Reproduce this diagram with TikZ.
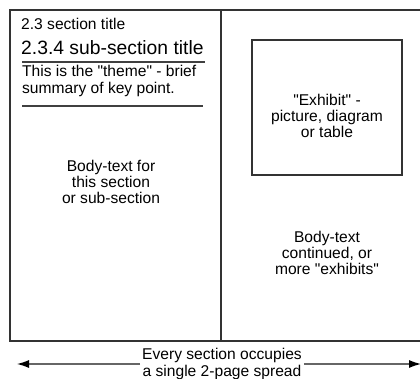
\documentclass[tikz,border=0pt]{standalone}
\usepackage{fontspec}
\setmainfont{Liberation Sans}
\usetikzlibrary{arrows.meta}
\newcommand{\dq}{\textquotedbl}
\begin{document}
\begin{tikzpicture}[x=1pt,y=-1pt,
  frame/.style={draw=black!80,line width=1.3pt},
  rule/.style={draw=black!75,line width=1.1pt},
  txt/.style={inner sep=0pt,align=center,font=\fontsize{15.6}{16.3}\selectfont},
  ltxt/.style={inner sep=0pt,anchor=west,align=left,font=\fontsize{15.6}{16.3}\selectfont},
  spread/.style={draw=black!60,line width=1.1pt,-{Latex[length=12pt,width=8pt,black]}}]
\useasboundingbox (0,0) rectangle (420,379);
% outer page frame
\coordinate (tr) at (421,10);
\coordinate (tl) at (10,10);
\coordinate (bl) at (10,341);
\coordinate (br) at (421,341);
\coordinate (mt) at (221,10);
\coordinate (mb) at (221,341);
\draw[frame] (tr) -- (tl) -- (bl) -- (br);
\draw[frame] (mt) -- (mb);
% left page
\node[ltxt] (sec) at (21,24) {2.3 section title};
\node[ltxt,font=\fontsize{19.3}{22}\selectfont] (sub) at (21,48) {2.3.4 sub-section title};
\coordinate (u1) at (22,62);
\coordinate (u2) at (205,62);
\draw[rule] (u1) -- (u2);
\node[ltxt] (theme) at (22,81) {This is the \dq theme\dq{} - brief\\summary of key point.};
\coordinate (v1) at (22,106);
\coordinate (v2) at (203,106);
\draw[rule] (v1) -- (v2);
\node[txt] (body1) at (111,182) {Body-text for\\this section\\or sub-section};
% right page
\node[frame,line width=1.1pt,minimum width=150pt,minimum height=135pt,inner sep=0pt] (exh) at (327,107.5) {};
\node[txt] (exhtxt) at (327,116) {\dq Exhibit\dq{} -\\picture, diagram\\or table};
\node[txt] (body2) at (327,253) {Body-text\\continued, or\\more \dq exhibits\dq};
% bottom arrow
\node[txt] (cap) at (222,364) {Every section occupies\\a single 2-page spread};
\coordinate (al) at (17,364);
\coordinate (ar) at (421,364);
\draw[spread] ([xshift=-2pt]cap.west) -- (al);
\draw[spread] ([xshift=2pt]cap.east) -- (ar);
\end{tikzpicture}
\end{document}
